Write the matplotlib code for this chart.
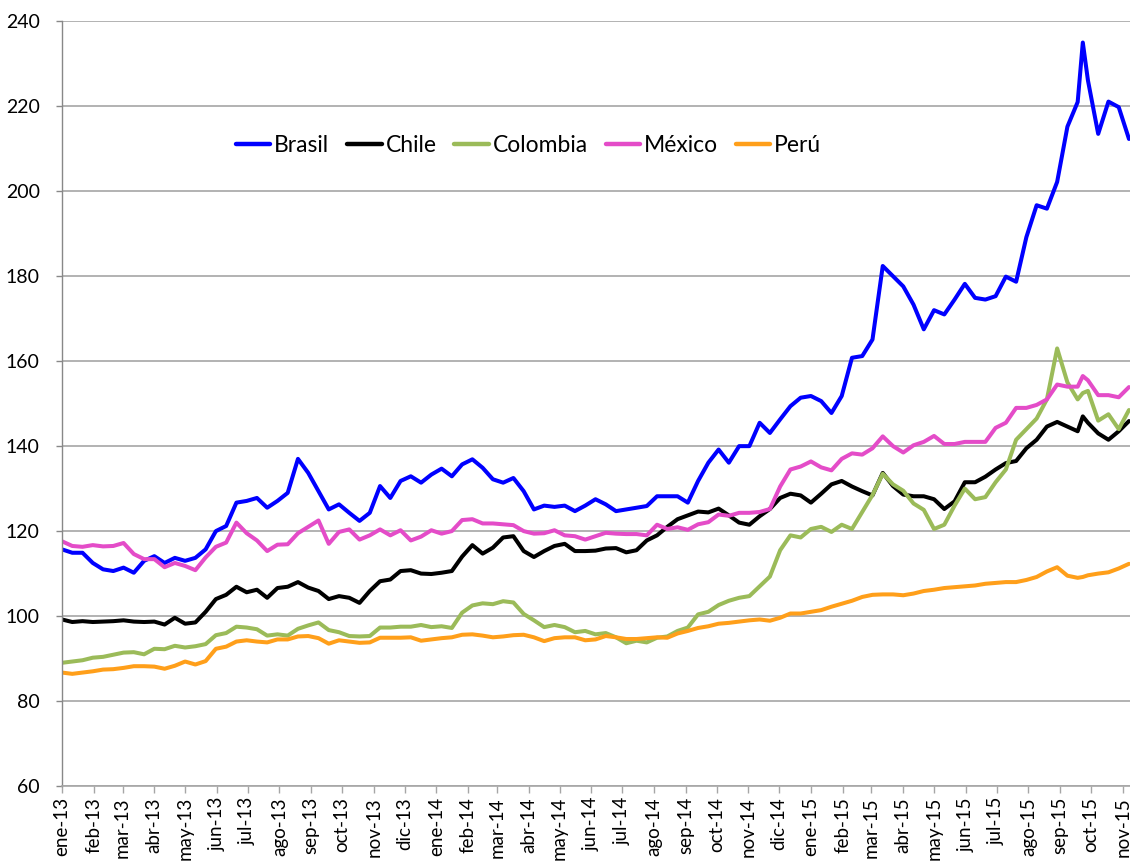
import matplotlib
matplotlib.use("Agg")
import matplotlib.pyplot as plt
import pandas as pd

# ---------------- data ----------------
# sampling dates: every 10 days from 2013-01-01, plus the Sept-2015 peak day
dates = pd.date_range("2013-01-01", periods=105, freq="10D")
dates = dates.insert(100, pd.Timestamp("2015-09-23"))

brasil = [115.7, 114.9, 114.9, 112.5, 111.0, 110.6, 111.4, 110.2, 113.0, 114.1, 112.5, 113.7, 113.0, 113.7, 115.7, 120.0, 121.2, 126.7,
          127.1, 127.8, 125.5, 127.1, 129.0, 137.0, 133.7, 129.4, 125.1, 126.3, 124.3, 122.4, 124.3, 130.6, 127.8, 131.8, 132.9, 131.4,
          133.3, 134.7, 132.9, 135.7, 136.9, 134.9, 132.2, 131.4, 132.5, 129.4, 125.1, 126.0, 125.7, 126.0, 124.7, 126.0, 127.5,
          126.3, 124.7, 125.1, 125.5, 125.9, 128.2, 128.2, 128.2, 126.7, 131.8, 136.1, 139.2, 136.1, 140.0, 140.0, 145.5, 143.1, 146.3,
          149.4, 151.4, 151.8, 150.6, 147.8, 151.8, 160.8, 161.2, 165.1, 182.4, 180.0, 177.6, 173.3, 167.5, 172.0, 171.0, 174.5,
          178.2, 174.9, 174.5, 175.3, 179.9, 178.7, 189.2, 196.7, 195.9, 202.2, 215.2, 221.0,
          235.0,
          226.1, 213.5, 221.1, 219.8, 212.3]

chile = [99.2, 98.6, 98.8, 98.6, 98.7, 98.8, 99.0, 98.7, 98.6, 98.7, 98.0, 99.6, 98.2, 98.5, 101.0, 104.0, 105.0, 106.9,
         105.6, 106.2, 104.3, 106.6, 106.9, 108.0, 106.7, 105.9, 104.0, 104.7, 104.3, 103.1, 105.9, 108.2, 108.6, 110.6, 110.8, 110.0,
         109.9, 110.2, 110.6, 114.0, 116.7, 114.7, 116.1, 118.5, 118.8, 115.3, 113.9, 115.3, 116.5, 117.0, 115.3, 115.3, 115.4,
         115.9, 116.0, 115.0, 115.5, 117.8, 119.0, 121.0, 122.8, 123.7, 124.6, 124.4, 125.3, 123.7, 122.0, 121.5, 123.5, 125.2, 127.8,
         128.8, 128.4, 126.7, 128.8, 131.0, 131.8, 130.5, 129.4, 128.4, 133.7, 130.6, 128.6, 128.2, 128.2, 127.5, 125.2, 127.0,
         131.5, 131.5, 132.8, 134.5, 136.0, 136.5, 139.5, 141.5, 144.6, 145.7, 144.6, 143.5,
         147.0,
         145.5, 143.0, 141.5, 143.5, 145.9]

colombia = [89.0, 89.3, 89.6, 90.2, 90.4, 90.9, 91.4, 91.5, 91.0, 92.3, 92.2, 93.0, 92.6, 92.9, 93.4, 95.5, 96.0, 97.5,
            97.3, 96.9, 95.4, 95.7, 95.4, 97.0, 97.8, 98.5, 96.7, 96.2, 95.3, 95.2, 95.3, 97.3, 97.3, 97.5, 97.5, 97.9,
            97.4, 97.6, 97.2, 100.8, 102.5, 103.0, 102.8, 103.5, 103.2, 100.5, 99.0, 97.4, 97.9, 97.4, 96.2, 96.5, 95.7,
            96.0, 95.0, 93.6, 94.2, 93.8, 94.9, 95.2, 96.5, 97.3, 100.4, 101.0, 102.6, 103.6, 104.3, 104.7, 107.0, 109.3, 115.5,
            119.0, 118.5, 120.5, 121.0, 119.8, 121.5, 120.5, 124.5, 128.5, 133.5, 131.0, 129.5, 126.5, 125.0, 120.5, 121.5, 126.0,
            130.0, 127.5, 128.0, 131.5, 134.5, 141.5, 144.0, 146.5, 151.0, 163.0, 155.0, 151.0,
            152.5,
            153.0, 146.0, 147.5, 144.0, 148.5]

mexico = [117.6, 116.5, 116.3, 116.7, 116.4, 116.5, 117.2, 114.6, 113.4, 113.4, 111.5, 112.5, 111.8, 110.8, 113.8, 116.3, 117.3, 122.0,
          119.5, 117.8, 115.3, 116.8, 116.9, 119.5, 121.0, 122.5, 117.0, 119.8, 120.4, 118.0, 119.0, 120.4, 119.0, 120.2, 117.8, 118.7,
          120.2, 119.4, 120.0, 122.6, 122.8, 121.8, 121.8, 121.6, 121.4, 120.0, 119.4, 119.5, 120.2, 119.0, 118.8, 118.0, 118.8,
          119.6, 119.4, 119.3, 119.3, 119.0, 121.5, 120.5, 120.9, 120.3, 121.6, 122.1, 123.9, 123.6, 124.3, 124.3, 124.5, 125.2, 130.5,
          134.5, 135.2, 136.4, 135.0, 134.3, 137.0, 138.3, 138.0, 139.5, 142.3, 140.0, 138.5, 140.2, 141.0, 142.4, 140.5, 140.5,
          141.0, 141.0, 141.0, 144.3, 145.5, 149.0, 149.0, 149.7, 151.0, 154.5, 154.0, 154.0,
          156.5,
          155.5, 152.0, 152.0, 151.5, 153.9]

peru = [86.7, 86.4, 86.7, 87.0, 87.4, 87.5, 87.8, 88.2, 88.2, 88.1, 87.6, 88.3, 89.3, 88.6, 89.4, 92.3, 92.8, 94.0,
        94.3, 94.0, 93.8, 94.5, 94.5, 95.2, 95.3, 94.8, 93.5, 94.3, 94.0, 93.7, 93.8, 94.9, 94.9, 94.9, 95.0, 94.2,
        94.5, 94.8, 95.0, 95.6, 95.7, 95.4, 95.0, 95.2, 95.5, 95.6, 95.0, 94.1, 94.8, 95.0, 95.0, 94.3, 94.5,
        95.3, 95.0, 94.6, 94.6, 94.8, 95.0, 94.9, 95.9, 96.5, 97.2, 97.6, 98.2, 98.4, 98.7, 99.0, 99.2, 98.9, 99.6,
        100.6, 100.6, 101.0, 101.4, 102.2, 102.9, 103.6, 104.5, 105.0, 105.1, 105.1, 104.9, 105.3, 105.9, 106.2, 106.6, 106.8,
        107.0, 107.2, 107.6, 107.8, 108.0, 108.0, 108.5, 109.2, 110.5, 111.5, 109.5, 109.0,
        109.2,
        109.6, 110.0, 110.3, 111.2, 112.3]

series_names = ["Brasil", "Chile", "Colombia", "México", "Perú"]
series_values = [brasil, chile, colombia, mexico, peru]
series_colors = ["#0000FF", "#000000", "#9BBB59", "#E44CC8", "#FF9F1A"]

month_abbr = ["ene", "feb", "mar", "abr", "may", "jun", "jul", "ago", "sep", "oct", "nov", "dic"]
y_ticks = [60, 80, 100, 120, 140, 160, 180, 200, 220, 240]

# ---------------- figure ----------------
plt.rcParams["font.family"] = ["Lato", "DejaVu Sans"]
W, H = 1130, 863
fig = plt.figure(figsize=(W / 100, H / 100), dpi=100)
ax = fig.add_axes([62 / W, 1 - 786 / H, (W - 62) / W, (786 - 21.3) / H])

for name, vals, col in zip(series_names, series_values, series_colors):
    ax.plot(dates, vals, color=col, lw=2.9, label=name, solid_joinstyle="round", solid_capstyle="round")

ax.set_ylim(60, 240)
ax.set_xlim(pd.Timestamp("2013-01-01"), pd.Timestamp("2015-11-08"))
ax.set_yticks(y_ticks)
ax.set_yticklabels([str(v) for v in y_ticks])

month_ticks = pd.date_range("2013-01-01", "2015-11-01", freq="MS")
ax.set_xticks(month_ticks)
ax.set_xticklabels([f"{month_abbr[d.month - 1]}-{d.year % 100:02d}" for d in month_ticks], rotation=90)

ax.yaxis.grid(True, color="#A6A6A6", lw=1.2)
ax.set_axisbelow(True)
for s in ["top", "right"]:
    ax.spines[s].set_visible(False)
ax.spines["left"].set_color("#888888")
ax.spines["left"].set_linewidth(1.0)
ax.spines["bottom"].set_color("#A6A6A6")
ax.spines["bottom"].set_linewidth(1.2)

ax.tick_params(axis="y", direction="out", length=4, width=1, color="#888888", pad=12, labelsize=14)
ax.tick_params(axis="x", direction="out", length=5, width=1, color="#A6A6A6", pad=3, labelsize=13.5)

leg = ax.legend(loc="center", bbox_to_anchor=(0.437, 0.838), ncol=5, frameon=False,
                fontsize=16.5, handlelength=1.5, handletextpad=0.17, columnspacing=0.78)
for line in leg.get_lines():
    line.set_linewidth(3.2)

fig.savefig("out.png", dpi=100)
